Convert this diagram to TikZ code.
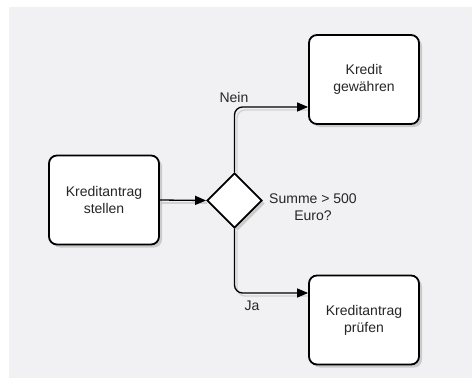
\documentclass[tikz,border=0pt]{standalone}
\usepackage{fontspec}
\setmainfont{Liberation Sans}
\usetikzlibrary{shapes.geometric,arrows.meta,shadows,calc}
\definecolor{bg}{HTML}{F1F1F4}
\definecolor{txt}{HTML}{262626}
\begin{document}
\begin{tikzpicture}[x=1pt,y=-1pt,
  box/.style={draw=black,line width=1.8pt,fill=white,rounded corners=8pt,
    minimum width=110pt,minimum height=89pt,inner sep=2pt,align=center,
    text=txt,font=\fontsize{14}{16.8}\selectfont,
    drop shadow={shadow xshift=3pt,shadow yshift=-3pt,fill=black!30,opacity=0.6}},
  decision/.style={diamond,draw=black,line width=1.8pt,fill=white,
    minimum width=55pt,minimum height=55pt,inner sep=0pt,
    drop shadow={shadow xshift=3pt,shadow yshift=-3pt,fill=black!30,opacity=0.6}},
  conn/.style={line width=1.3pt,draw=black,rounded corners=8pt,
    -{Triangle[length=11pt,width=9pt]}},
  connshadow/.style={line width=1.3pt,draw=black!18,rounded corners=8pt},
  lbl/.style={text=txt,font=\fontsize{14}{16.8}\selectfont,inner sep=0pt,align=center}]
\useasboundingbox (0,0) rectangle (472,380);
\fill[white] (0,0) rectangle (472,380);
\fill[bg] (9,7) rectangle (472,378);

% connector shadows
\draw[connshadow] (161,203) -- (207,203);
\draw[connshadow] (237,176) |- (309,110);
\draw[connshadow] (237,231) |- (309,296);

\node[box] (b1) at (104,200) {Kreditantrag\\stellen};
\node[box] (b2) at (364,79.5) {Kredit\\gewähren};
\node[box] (b3) at (364,320) {Kreditantrag\\prüfen};
\node[decision] (d) at (234.5,200.5) {};

\coordinate (nein) at ($(b2.west)+(0,27.5)$);
\coordinate (ja) at ($(b3.west)+(0,-27)$);

\draw[conn] (b1.east) -- (d.west);
\draw[conn] (d.north) |- (nein);
\draw[conn] (d.south) |- (ja);

\node[lbl] (lnein) at (234,97) {Nein};
\node[lbl] (lja) at (252,306) {Ja};
\node[lbl] (lsum) at (313,207) {Summe > 500\\Euro?};
\end{tikzpicture}
\end{document}
